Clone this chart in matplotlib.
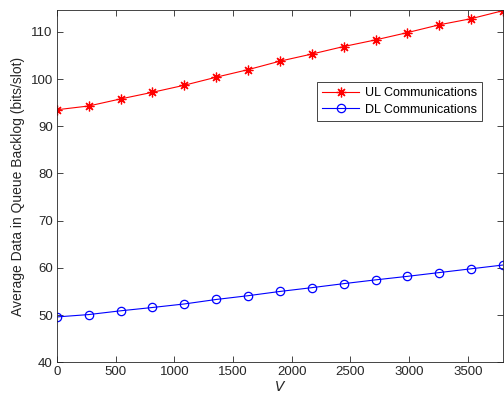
import numpy as np
import matplotlib
matplotlib.use("Agg")
import matplotlib.pyplot as plt

# V values (15 points, 0..3800)
v_vals = [0, 271, 543, 814, 1086, 1357, 1629, 1900, 2171, 2443, 2714, 2986, 3257, 3529, 3800]
ul_backlog = [93.5, 94.3, 95.8, 97.2, 98.7, 100.4, 102.0, 103.8, 105.3, 106.9,
              108.3, 109.85, 111.5, 112.8, 114.5]
dl_backlog = [49.6, 50.1, 50.9, 51.6, 52.35, 53.3, 54.1, 55.0, 55.8, 56.65,
              57.45, 58.2, 59.0, 59.8, 60.6]

plt.rcParams.update({"font.family": ["Liberation Sans", "DejaVu Sans"], "font.size": 9})
INK = "#262626"

fig = plt.figure(figsize=(5.04, 4.07), dpi=100)
ax = fig.add_axes([0.113, 0.110, 0.885, 0.865])
# MATLAB-style asterisk: 8 spokes
ax.plot(v_vals, ul_backlog, "-", marker=(8, 2, 0), color="red", lw=0.8, ms=7, mew=0.9,
        label="UL Communications")
ax.plot(v_vals, dl_backlog, "-o", color="blue", lw=0.8, ms=6, mfc="none", mew=0.9,
        label="DL Communications")

ax.set_xlim(0, 3800)
ax.set_ylim(40, 114.6)
ax.set_xticks(np.arange(0, 3501, 500))
ax.set_yticks(np.arange(40, 111, 10))
ax.tick_params(direction="in", top=True, right=True, length=4, width=0.6,
               colors=INK, labelsize=9.5, pad=3)
for s in ax.spines.values():
    s.set_color(INK); s.set_linewidth(0.6)
ax.set_xlabel("$V$", color=INK, fontsize=10, labelpad=1)
ax.set_ylabel("Average Data in Queue Backlog (bits/slot)", color=INK, fontsize=10, labelpad=4)

leg = ax.legend(loc="upper left", bbox_to_anchor=(0.583, 0.795), fontsize=9, fancybox=False,
                framealpha=1, edgecolor=INK, handlelength=3.0, borderpad=0.4,
                labelspacing=0.35, handletextpad=0.45, borderaxespad=0)
leg.get_frame().set_linewidth(0.6)

fig.savefig("out.png", dpi=100)
